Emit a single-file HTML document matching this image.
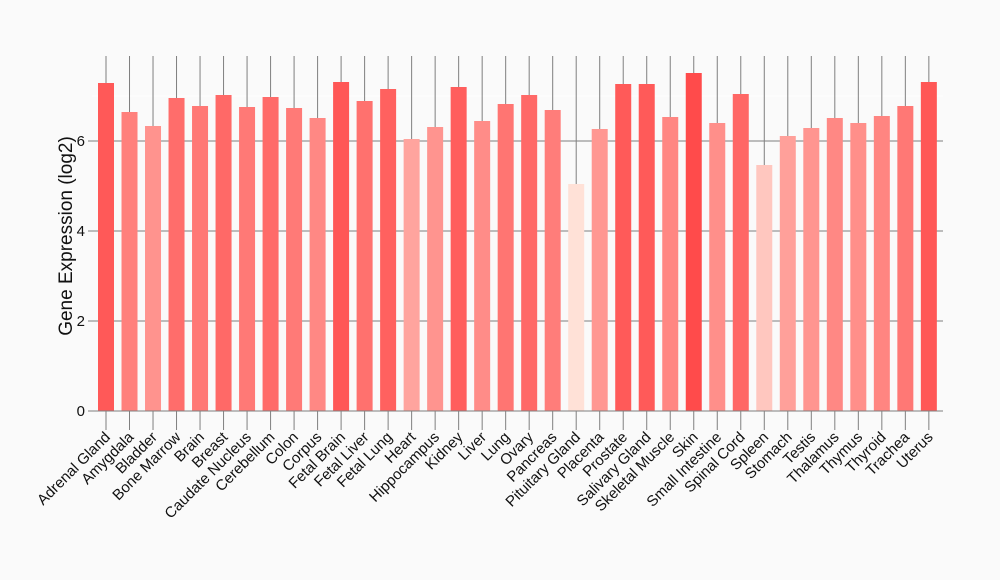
<!DOCTYPE html>
<html><head><meta charset="utf-8"><style>
html,body{margin:0;padding:0;background:#fafafa;}
svg{display:block;font-family:"Liberation Sans",sans-serif;}
</style></head><body>
<svg id="s" width="1000" height="580" xmlns="http://www.w3.org/2000/svg">
<rect width="1000" height="580" fill="#fafafa"/>
</svg>
<script>
const names=["Adrenal Gland","Amygdala","Bladder","Bone Marrow","Brain","Breast","Caudate Nucleus","Cerebellum","Colon","Corpus","Fetal Brain","Fetal Liver","Fetal Lung","Heart","Hippocampus","Kidney","Liver","Lung","Ovary","Pancreas","Pituitary Gland","Placenta","Prostate","Salivary Gland","Skeletal Muscle","Skin","Small Intestine","Spinal Cord","Spleen","Stomach","Testis","Thalamus","Thymus","Thyroid","Trachea","Uterus"];
const tops=[83,112,126,98,106,95,107,97,108,118,82,101,89,139,127,87,121,104,95,110,184,129,84,84,117,73,123,94,165,136,128,118,123,116,106,82];
let h='';
const y0=411;
h+=`<line x1="92" x2="943" y1="96" y2="96" stroke="#ffffff" stroke-width="1"/>`;
[141,231,321].forEach(y=>h+=`<line x1="92" x2="943" y1="${y}" y2="${y}" stroke="#7f7f7f" stroke-width="1"/>`);
for(let i=0;i<36;i++){
 const cx=106+i*23.51;
 h+=`<line x1="${cx}" x2="${cx}" y1="56" y2="${y0}" stroke="#7f7f7f" stroke-width="1"/>`;
}
for(let i=0;i<36;i++){
 const cx=106+i*23.51, t=tops[i];
 const f=Math.min(1,Math.max(0,(t-73)/(184-73)));
 const g=Math.round(75+f*150), b=Math.round(75+f*140);
 h+=`<rect x="${cx-8}" y="${t}" width="16" height="${y0-t}" fill="rgb(255,${g},${b})"/>`;
 h+=`<line x1="${cx}" x2="${cx}" y1="${y0}" y2="430" stroke="#7f7f7f"/>`;
 h+=`<text transform="translate(${cx+5},${438}) rotate(-45)" text-anchor="end" font-size="15" fill="#111">${names[i]}</text>`;
}
h+=`<line x1="92" x2="943" y1="${y0}" y2="${y0}" stroke="#7f7f7f"/>`;
[[0,411],[2,321],[4,231],[6,141]].forEach(([v,y])=>{
 h+=`<line x1="88" x2="93" y1="${y}" y2="${y}" stroke="#7f7f7f"/>`;
 h+=`<text x="85" y="${y+5}" text-anchor="end" font-size="15" fill="#111">${v}</text>`;
});
h+=`<text transform="translate(72,236) rotate(-90)" text-anchor="middle" font-size="19" fill="#111">Gene Expression (log2)</text>`;
document.getElementById('s').insertAdjacentHTML('beforeend',h);
</script>
</body></html>
